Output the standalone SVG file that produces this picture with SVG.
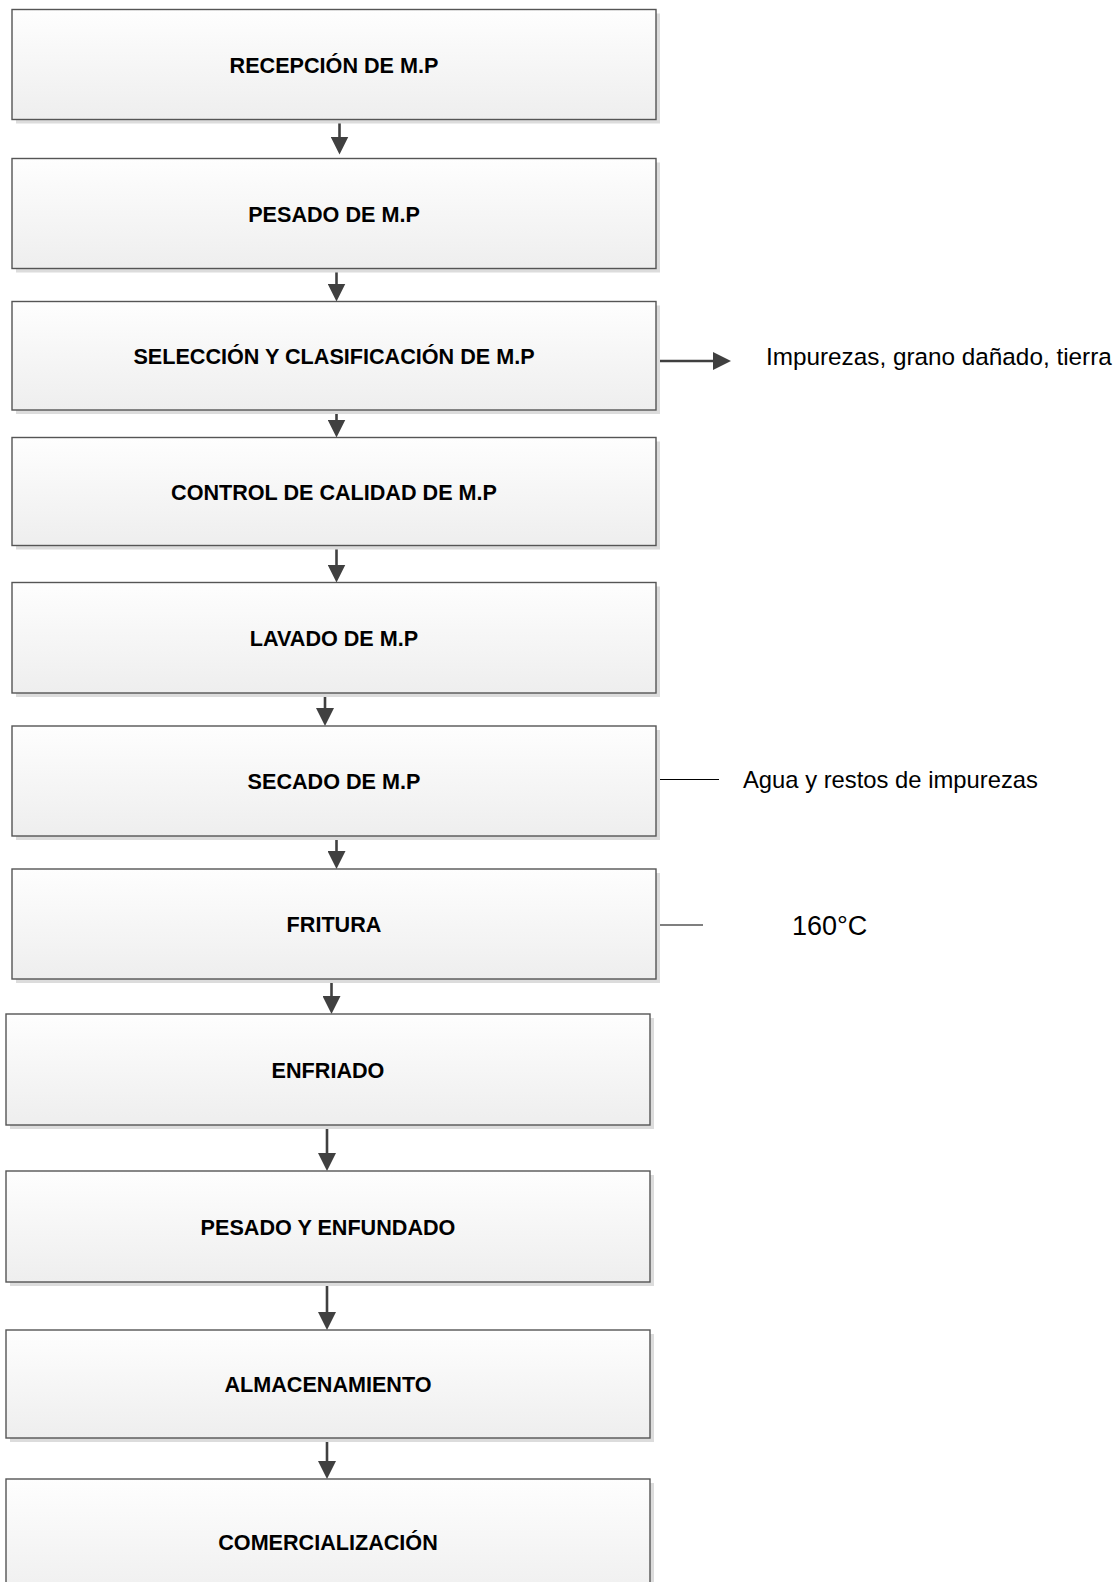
<svg xmlns="http://www.w3.org/2000/svg" width="1120" height="1582" viewBox="0 0 1120 1582">
<style>
.box{fill:url(#g);stroke:#555;stroke-width:1.4}
.sh{fill:#dcdcdc}
.lbl{font-family:"Liberation Sans",Arial,sans-serif;font-weight:bold;font-size:21.6px;fill:#000;text-anchor:middle}
.note{font-family:"Liberation Sans",Arial,sans-serif;font-size:24px;fill:#000}
.c{stroke:#404040;stroke-width:2.6;fill:none}
.thin{stroke:#000;stroke-width:1.2;fill:none}
</style>
<defs>
<linearGradient id="g" x1="0" y1="0" x2="0" y2="1">
<stop offset="0" stop-color="#fefefe"/>
<stop offset="1" stop-color="#eeeeee"/>
</linearGradient>
<marker id="ah" viewBox="0 0 18 18" refX="14" refY="9" markerWidth="18" markerHeight="18" markerUnits="userSpaceOnUse" orient="auto">
<path d="M0,0 L18,9 L0,18 Z" fill="#404040"/>
</marker>
</defs>
<rect width="1120" height="1582" fill="#fff"/>
<g id="connectors">
<path class="c" d="M339.5,119.5 V150.5" marker-end="url(#ah)"/>
<path class="c" d="M336.5,268.7 V297.5" marker-end="url(#ah)"/>
<path class="c" d="M336.5,410 V433.5" marker-end="url(#ah)"/>
<path class="c" d="M336.5,545.5 V578.5" marker-end="url(#ah)"/>
<path class="c" d="M325,693 V722" marker-end="url(#ah)"/>
<path class="c" d="M336.5,836 V865" marker-end="url(#ah)"/>
<path class="c" d="M331.5,979 V1010" marker-end="url(#ah)"/>
<path class="c" d="M327,1125 V1167" marker-end="url(#ah)"/>
<path class="c" d="M327,1282 V1326" marker-end="url(#ah)"/>
<path class="c" d="M327,1438 V1475" marker-end="url(#ah)"/>
<path class="c" d="M656,361 H727" marker-end="url(#ah)"/>
<path class="thin" d="M656,779.5 H719"/>
<path class="thin" d="M656,925 H703"/>
</g>
<g id="n1"><rect class="sh" x="16" y="13.5" width="644" height="110"/><rect class="box" x="12" y="9.5" width="644" height="110"/><text class="lbl" x="334" y="72.5">RECEPCIÓN DE M.P</text></g>
<g id="n2"><rect class="sh" x="16" y="162.5" width="644" height="110"/><rect class="box" x="12" y="158.5" width="644" height="110"/><text class="lbl" x="334" y="221.5">PESADO DE M.P</text></g>
<g id="n3"><rect class="sh" x="16" y="305.5" width="644" height="108.5"/><rect class="box" x="12" y="301.5" width="644" height="108.5"/><text class="lbl" x="334" y="363.5">SELECCIÓN Y CLASIFICACIÓN DE M.P</text></g>
<g id="n4"><rect class="sh" x="16" y="441.5" width="644" height="108"/><rect class="box" x="12" y="437.5" width="644" height="108"/><text class="lbl" x="334" y="499.5">CONTROL DE CALIDAD DE M.P</text></g>
<g id="n5"><rect class="sh" x="16" y="586.5" width="644" height="110.5"/><rect class="box" x="12" y="582.5" width="644" height="110.5"/><text class="lbl" x="334" y="645.5">LAVADO DE M.P</text></g>
<g id="n6"><rect class="sh" x="16" y="730" width="644" height="110"/><rect class="box" x="12" y="726" width="644" height="110"/><text class="lbl" x="334" y="789">SECADO DE M.P</text></g>
<g id="n7"><rect class="sh" x="16" y="873" width="644" height="110"/><rect class="box" x="12" y="869" width="644" height="110"/><text class="lbl" x="334" y="932">FRITURA</text></g>
<g id="n8"><rect class="sh" x="10" y="1018" width="644" height="111"/><rect class="box" x="6" y="1014" width="644" height="111"/><text class="lbl" x="328" y="1077.5">ENFRIADO</text></g>
<g id="n9"><rect class="sh" x="10" y="1175" width="644" height="111"/><rect class="box" x="6" y="1171" width="644" height="111"/><text class="lbl" x="328" y="1234.5">PESADO Y ENFUNDADO</text></g>
<g id="n10"><rect class="sh" x="10" y="1334" width="644" height="108"/><rect class="box" x="6" y="1330" width="644" height="108"/><text class="lbl" x="328" y="1392">ALMACENAMIENTO</text></g>
<g id="n11"><rect class="sh" x="10" y="1483" width="644" height="126"/><rect class="box" x="6" y="1479" width="644" height="126"/><text class="lbl" x="328" y="1550">COMERCIALIZACIÓN</text></g>
<g id="notes">
<text class="note" x="766" y="365" style="font-size:24.3px">Impurezas, grano dañado, tierra</text>
<text class="note" x="743" y="788" style="font-size:23.8px">Agua y restos de impurezas</text>
<text class="note" x="792" y="935" style="font-size:27px">160°C</text>
</g>
</svg>
